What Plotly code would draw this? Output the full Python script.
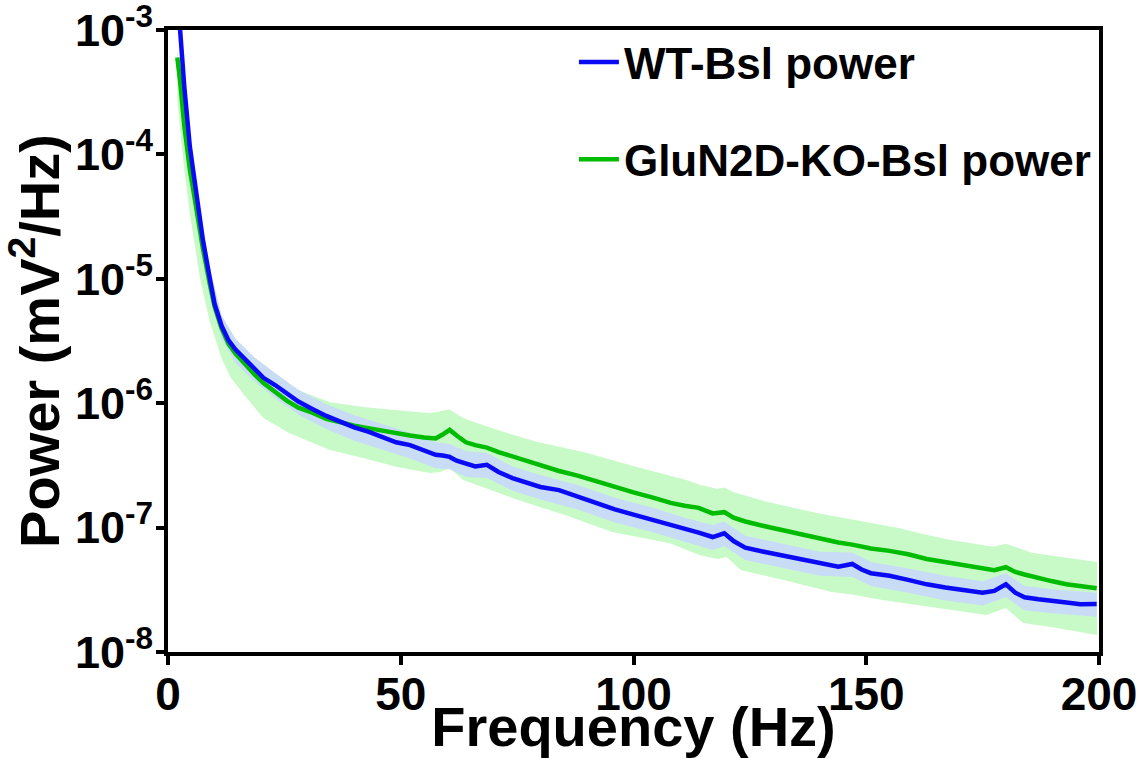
import plotly.graph_objects as go

# ---------------- data ----------------
freq = [2, 2.6, 3.5, 4.1, 4.7, 5.5, 6.4, 7.5, 9, 10, 11.5, 13, 14.5, 16.5, 18.5,
        20.5, 23, 25.5, 28, 31, 34, 37, 40, 43, 46, 49, 52, 55, 57.5, 59,
        60.5, 62, 64, 66, 68.5, 71, 74, 77, 80, 84, 88, 92, 96, 100, 104,
        108, 111, 114, 117, 119.5, 121.5, 124, 128, 132, 136, 140, 144, 147, 149, 151,
        155, 159, 163, 167, 171, 175, 177.5, 180, 182, 184, 187, 190, 193, 196, 199.5]

wt_power = [1.5e-3, 1.0e-3, 3.5e-4, 1.9e-4, 1.15e-4, 7.0e-5, 3.8e-5, 2.05e-5, 1.0e-5, 6.3e-6,
            4.2e-6, 3.2e-6, 2.7e-6, 2.25e-6, 1.9e-6, 1.6e-6, 1.4e-6, 1.2e-6, 1.03e-6, 9.0e-7,
            7.9e-7, 7.1e-7, 6.4e-7, 5.9e-7, 5.4e-7, 4.85e-7, 4.6e-7, 4.2e-7, 3.85e-7, 3.8e-7,
            3.7e-7, 3.45e-7, 3.25e-7, 3.1e-7, 3.2e-7, 2.8e-7, 2.5e-7, 2.3e-7, 2.12e-7, 2.0e-7,
            1.78e-7, 1.56e-7, 1.4e-7, 1.27e-7, 1.16e-7, 1.05e-7, 9.7e-8, 9.1e-8, 8.4e-8, 9.0e-8,
            7.8e-8, 6.9e-8, 6.4e-8, 6.0e-8, 5.6e-8, 5.2e-8, 4.85e-8, 5.1e-8, 4.6e-8, 4.3e-8,
            4.1e-8, 3.8e-8, 3.5e-8, 3.3e-8, 3.15e-8, 3.0e-8, 3.1e-8, 3.5e-8, 3.0e-8, 2.75e-8,
            2.65e-8, 2.6e-8, 2.5e-8, 2.42e-8, 2.43e-8]

ko_power = [6.0e-4, 3.9e-4, 1.7e-4, 1.05e-4, 7.5e-5, 5.0e-5, 3.1e-5, 1.75e-5, 9.0e-6, 6.0e-6,
            4.0e-6, 3.0e-6, 2.5e-6, 2.05e-6, 1.72e-6, 1.45e-6, 1.22e-6, 1.05e-6, 9.2e-7, 8.4e-7,
            7.5e-7, 7.0e-7, 6.6e-7, 6.3e-7, 6.0e-7, 5.75e-7, 5.5e-7, 5.3e-7, 5.2e-7, 5.6e-7,
            6.1e-7, 5.5e-7, 4.85e-7, 4.6e-7, 4.4e-7, 4.05e-7, 3.75e-7, 3.4e-7, 3.2e-7, 2.85e-7,
            2.62e-7, 2.35e-7, 2.1e-7, 1.92e-7, 1.75e-7, 1.58e-7, 1.5e-7, 1.44e-7, 1.3e-7, 1.33e-7,
            1.2e-7, 1.12e-7, 1.03e-7, 9.5e-8, 8.8e-8, 8.2e-8, 7.6e-8, 7.3e-8, 7.0e-8, 6.8e-8,
            6.5e-8, 6.1e-8, 5.6e-8, 5.3e-8, 4.95e-8, 4.65e-8, 4.55e-8, 4.8e-8, 4.4e-8, 4.2e-8,
            3.9e-8, 3.7e-8, 3.5e-8, 3.35e-8, 3.25e-8]

# shaded error bands (edges)
wt_band_freq = [2.6, 3.5, 4.7, 6.4, 9, 11.5, 14.5, 18.5, 23, 28, 34, 40, 46, 52, 57.5, 60.5,
                64, 68.5, 74, 80, 88, 96, 104, 111, 117, 119.5, 124, 132, 140, 147, 151,
                159, 167, 175, 180, 184, 190, 199.5]
wt_upper = [1.2e-3, 4.2e-4, 1.4e-4, 4.6e-5, 1.22e-5, 5.1e-6, 3.3e-6, 2.35e-6, 1.75e-6, 1.28e-6,
            9.8e-7, 8.0e-7, 6.8e-7, 5.8e-7, 4.85e-7, 4.7e-7, 4.1e-7, 4.0e-7, 3.1e-7, 2.65e-7,
            2.2e-7, 1.74e-7, 1.45e-7, 1.2e-7, 1.05e-7, 1.12e-7, 8.6e-8, 7.4e-8, 6.4e-8, 6.3e-8,
            5.3e-8, 4.7e-8, 4.1e-8, 3.7e-8, 4.3e-8, 3.4e-8, 3.2e-8, 3.0e-8]
wt_lower = [8.0e-4, 2.8e-4, 9.0e-5, 3.0e-5, 7.9e-6, 3.3e-6, 2.1e-6, 1.5e-6, 1.1e-6, 8.1e-7,
            6.2e-7, 5.0e-7, 4.25e-7, 3.6e-7, 3.0e-7, 2.95e-7, 2.55e-7, 2.5e-7, 1.98e-7, 1.68e-7,
            1.4e-7, 1.1e-7, 9.2e-8, 7.7e-8, 6.6e-8, 7.1e-8, 5.5e-8, 4.75e-8, 4.1e-8, 4.0e-8,
            3.4e-8, 3.0e-8, 2.6e-8, 2.37e-8, 2.75e-8, 2.17e-8, 2.05e-8, 1.92e-8]

ko_upper_freq = [2, 2.6, 3.5, 4.7, 6.4, 9, 11.5, 14.5, 17, 20.4, 27.7, 34.8, 41.9, 49.2, 56.3,
                 58.5, 60.5, 63.4, 66, 72, 79.2, 89.9, 100.7, 111.4, 114.3, 118, 119.5, 121.4,
                 128.6, 139.4, 150.2, 157.2, 161.5, 167.9, 177.3, 180, 185.8, 199.6]
ko_upper = [7.0e-4, 4.6e-4, 2.1e-4, 9.5e-5, 3.8e-5, 1.1e-5, 4.8e-6, 3.0e-6, 2.25e-6, 1.75e-6,
            1.28e-6, 1.02e-6, 9.3e-7, 8.8e-7, 8.3e-7, 8.6e-7, 8.9e-7, 7.6e-7, 7.0e-7, 5.9e-7,
            4.9e-7, 4.0e-7, 3.07e-7, 2.41e-7, 2.2e-7, 2.05e-7, 2.1e-7, 1.93e-7, 1.61e-7, 1.31e-7,
            1.11e-7, 9.9e-8, 9.0e-8, 8.0e-8, 7.0e-8, 7.4e-8, 6.25e-8, 5.3e-8]

ko_lower_freq = [2, 2.6, 3.5, 4.7, 5.5, 6.9, 9, 11.5, 13.5, 16.5, 20.5, 26, 34.8, 41.9, 49.2,
                 56.3, 58.5, 60.5, 63.4, 67, 75.2, 85.3, 95.4, 107.8, 114.3, 118, 120, 123,
                 132, 142.6, 147, 153.4, 161.5, 175.9, 180, 183.7, 190, 199.6]
ko_lower = [2.7e-4, 1.7e-4, 7.5e-5, 3.3e-5, 2.2e-5, 1.0e-5, 4.5e-6, 2.3e-6, 1.6e-6, 1.15e-6,
            7.6e-7, 5.75e-7, 4.2e-7, 3.63e-7, 3.07e-7, 2.75e-7, 2.8e-7, 3.0e-7, 2.41e-7, 2.15e-7,
            1.67e-7, 1.26e-7, 9.2e-8, 7.5e-8, 6.0e-8, 5.6e-8, 5.8e-8, 4.56e-8, 3.8e-8, 3.03e-8,
            2.9e-8, 2.62e-8, 2.39e-8, 1.98e-8, 2.26e-8, 1.71e-8, 1.58e-8, 1.37e-8]

y_tickvals = [1e-8, 1e-7, 1e-6, 1e-5, 1e-4, 1e-3]
y_ticktext = ["10<sup>-8</sup>", "10<sup>-7</sup>", "10<sup>-6</sup>",
              "10<sup>-5</sup>", "10<sup>-4</sup>", "10<sup>-3</sup>"]
x_tickvals = [0, 50, 100, 150, 200]

series_names = ["WT-Bsl power", "GluN2D-KO-Bsl power"]

# ---------------- styles ----------------
BLUE = "rgb(10,10,245)"
GREEN = "rgb(0,188,0)"
BLUE_BAND = "rgb(200,220,246)"
GREEN_BAND = "rgb(200,250,200)"
FONT = "Arial, 'Liberation Sans', sans-serif"

fig = go.Figure()

# green band
fig.add_trace(go.Scatter(
    x=ko_upper_freq + ko_lower_freq[::-1], y=ko_upper + ko_lower[::-1],
    fill="toself", fillcolor=GREEN_BAND, line=dict(width=0), mode="lines",
    showlegend=False, hoverinfo="skip", legendgroup="ko"))
# blue band
fig.add_trace(go.Scatter(
    x=wt_band_freq + wt_band_freq[::-1], y=wt_upper + wt_lower[::-1],
    fill="toself", fillcolor=BLUE_BAND, line=dict(width=0), mode="lines",
    showlegend=False, hoverinfo="skip", legendgroup="wt"))
# green line
fig.add_trace(go.Scatter(
    x=freq, y=ko_power, mode="lines", name=series_names[1],
    line=dict(color=GREEN, width=4.5), legendgroup="ko", legendrank=2))
# blue line
fig.add_trace(go.Scatter(
    x=freq, y=wt_power, mode="lines", name=series_names[0],
    line=dict(color=BLUE, width=4.5), legendgroup="wt", legendrank=1))

fig.update_layout(
    width=1145, height=758,
    margin=dict(l=168, r=46, t=30, b=106),
    paper_bgcolor="white", plot_bgcolor="white",
    font=dict(family=FONT, color="black"),
    showlegend=True,
    legend=dict(
        x=0.436, xanchor="left", y=1.005, yanchor="top",
        bgcolor="rgba(0,0,0,0)", borderwidth=0,
        font=dict(family=FONT, size=44, color="black", weight="bold"),
        traceorder="grouped", tracegroupgap=37, itemwidth=40,
    ),
)

fig.update_xaxes(
    range=[0, 200], tickvals=x_tickvals, automargin=False,
    showline=True, linecolor="black", linewidth=4, mirror=True,
    ticks="outside", ticklen=9, tickwidth=4, tickcolor="black",
    showgrid=False, zeroline=False, ticklabelstandoff=-10,
    ticklabeloverflow="allow",
    tickfont=dict(family=FONT, size=46, color="black", weight="bold"),
    title=dict(text="Frequency (Hz)", standoff=0,
               font=dict(family=FONT, size=56, color="black", weight="bold")),
)
fig.update_yaxes(
    type="log", range=[-8, -3], tickvals=y_tickvals, ticktext=y_ticktext, automargin=False,
    showline=True, linecolor="black", linewidth=4, mirror=True,
    ticks="outside", ticklen=8, tickwidth=4, tickcolor="black",
    showgrid=False, zeroline=False, ticklabelstandoff=-6,
    ticklabeloverflow="allow",
    tickfont=dict(family=FONT, size=45, color="black", weight="bold"),
    title=dict(text="Power (mV<sup>2</sup>/Hz)", standoff=0,
               font=dict(family=FONT, size=56, color="black", weight="bold")),
)

fig.write_html("out.html", config={"displayModeBar": False},
               post_script="document.body.style.margin='0';")
